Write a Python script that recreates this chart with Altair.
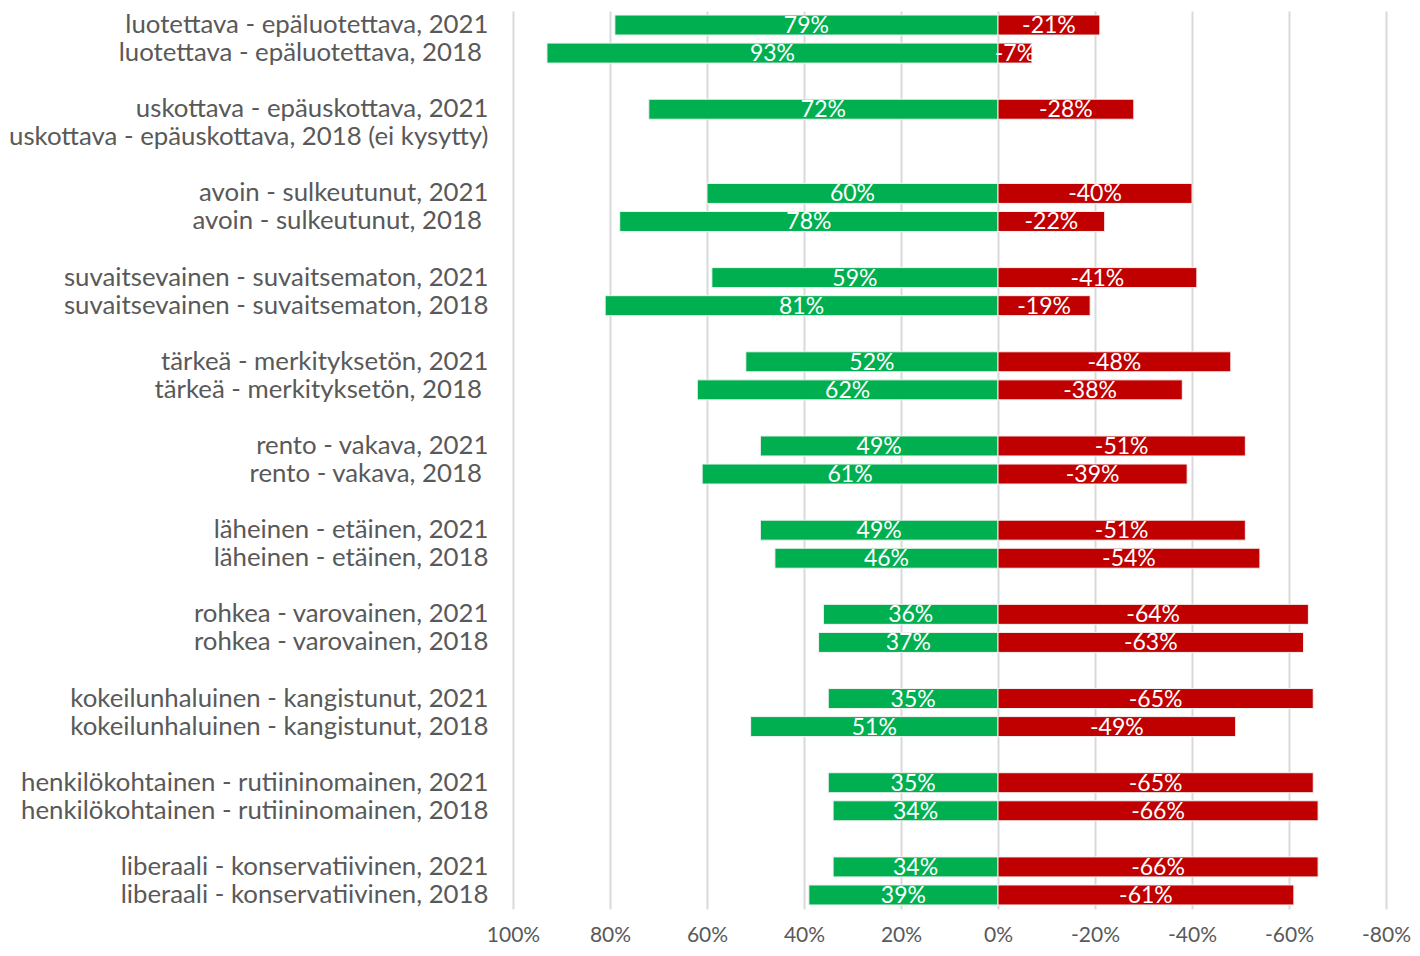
import altair as alt
import pandas as pd

categories = [
    "luotettava - epäluotettava, 2021",
    "luotettava - epäluotettava, 2018\u00a0\u200b",
    "gap1",
    "uskottava - epäuskottava, 2021",
    "uskottava - epäuskottava, 2018 (ei kysytty)",
    "gap2",
    "avoin - sulkeutunut, 2021",
    "avoin - sulkeutunut, 2018\u00a0\u200b",
    "gap3",
    "suvaitsevainen - suvaitsematon, 2021",
    "suvaitsevainen - suvaitsematon, 2018",
    "gap4",
    "tärkeä - merkityksetön, 2021",
    "tärkeä - merkityksetön, 2018\u00a0\u200b",
    "gap5",
    "rento - vakava, 2021",
    "rento - vakava, 2018\u00a0\u200b",
    "gap6",
    "läheinen - etäinen, 2021",
    "läheinen - etäinen, 2018",
    "gap7",
    "rohkea - varovainen, 2021",
    "rohkea - varovainen, 2018",
    "gap8",
    "kokeilunhaluinen - kangistunut, 2021",
    "kokeilunhaluinen - kangistunut, 2018",
    "gap9",
    "henkilökohtainen - rutiininomainen, 2021",
    "henkilökohtainen - rutiininomainen, 2018",
    "gap10",
    "liberaali - konservatiivinen, 2021",
    "liberaali - konservatiivinen, 2018",
]

positive = [79, 93, None, 72, None, None, 60, 78, None, 59, 81, None, 52, 62, None,
            49, 61, None, 49, 46, None, 36, 37, None, 35, 51, None, 35, 34, None, 34, 39]
negative = [-21, -7, None, -28, None, None, -40, -22, None, -41, -19, None, -48, -38, None,
            -51, -39, None, -51, -54, None, -64, -63, None, -65, -49, None, -65, -66, None, -66, -61]

x_ticks = [100, 80, 60, 40, 20, 0, -20, -40, -60, -80]

rows = []
for c, p, n in zip(categories, positive, negative):
    if p is not None:
        rows.append({"cat": c, "value": p, "side": "pos"})
    if n is not None:
        rows.append({"cat": c, "value": n, "side": "neg"})
df = pd.DataFrame(rows)

FONT = "Lato"
GREY = "#595959"

base = alt.Chart(df).transform_calculate(
    mid="datum.value / 2",
    lab="datum.value + '%'",
    zero="0",
)

y_enc = alt.Y(
    "cat:N",
    sort=categories,
    scale=alt.Scale(domain=categories, paddingInner=0, paddingOuter=0),
    axis=alt.Axis(
        title=None,
        ticks=False,
        domain=False,
        grid=False,
        labelFont=FONT,
        labelFontSize=25.8,
        labelColor=GREY,
        labelPadding=25,
        labelLimit=600,
        labelExpr="indexof(datum.label, 'gap') == 0 ? '' : datum.label",
    ),
)

x_scale = alt.Scale(domain=[-80, 100], reverse=True, nice=False)

bars = base.mark_bar(size=20, stroke="#f2f2f2", strokeWidth=1).encode(
    x=alt.X(
        "value:Q",
        scale=x_scale,
        axis=alt.Axis(
            title=None,
            values=x_ticks,
            labelExpr="datum.value + '%'",
            ticks=False,
            domain=False,
            grid=True,
            gridColor="#d9d9d9",
            gridWidth=2,
            labelFont=FONT,
            labelFontSize=21,
            labelColor=GREY,
            labelPadding=15,
            labelFlush=False,
        ),
    ),
    x2="zero:Q",
    y=y_enc,
    color=alt.Color(
        "side:N",
        scale=alt.Scale(domain=["pos", "neg"], range=["#00B050", "#C00000"]),
        legend=None,
    ),
)

texts = base.mark_text(
    color="white", font=FONT, fontSize=23, baseline="middle", align="center", dy=1
).encode(
    x=alt.X("mid:Q", scale=x_scale),
    y=alt.Y("cat:N", sort=categories),
    text="lab:N",
)

chart = (
    alt.layer(bars, texts)
    .properties(width=873, height=898, padding={"left": 0, "top": 3, "right": 0, "bottom": 0})
    .configure_view(stroke=None)
)

chart.save("out.html", embed_options={"renderer": "svg", "actions": False})
